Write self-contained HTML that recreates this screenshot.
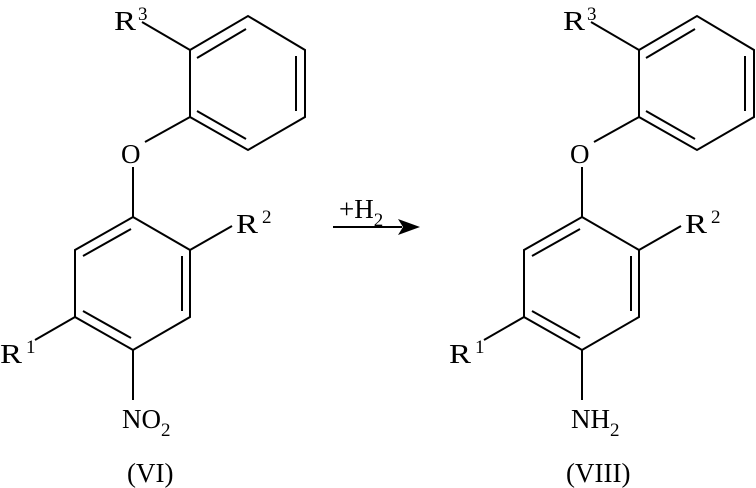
<!DOCTYPE html>
<html><head><meta charset="utf-8"><style>
html,body{margin:0;padding:0;background:#fff;}
svg{display:block;}
</style></head><body>
<svg width="756" height="488" viewBox="0 0 756 488" xmlns="http://www.w3.org/2000/svg" font-family="Liberation Serif, serif" font-size="27" fill="#000">
<defs>
<g id="m" stroke="#000" stroke-width="2" fill="none">
<polygon points="190,50 248,16 305,50 305,117 248,150 190,117"/>
<line x1="197" y1="58" x2="246" y2="29"/>
<line x1="296" y1="56" x2="296" y2="111"/>
<line x1="197" y1="111" x2="246" y2="139"/>
<line x1="190" y1="50" x2="142" y2="22"/>
<line x1="190" y1="117" x2="145" y2="142"/>
<line x1="133" y1="167" x2="133" y2="217"/>
<polygon points="133,217 190,250 190,317 133,350 75,317 75,250"/>
<line x1="83" y1="256" x2="131" y2="229"/>
<line x1="182" y1="256" x2="182" y2="311"/>
<line x1="83" y1="311" x2="131" y2="338"/>
<line x1="190" y1="250" x2="232" y2="226"/>
<line x1="75" y1="317" x2="35" y2="340"/>
<line x1="133" y1="350" x2="133" y2="400"/>
</g>
</defs>
<use href="#m"/>
<use href="#m" x="449"/>
<text x="114" y="30"><tspan textLength="22" lengthAdjust="spacingAndGlyphs">R</tspan><tspan font-size="19" dx="2" dy="-10">3</tspan></text>
<text x="121" y="163">O</text>
<text x="236" y="233"><tspan textLength="22" lengthAdjust="spacingAndGlyphs">R</tspan><tspan font-size="19" dx="4" dy="-10">2</tspan></text>
<text x="0" y="363"><tspan textLength="22" lengthAdjust="spacingAndGlyphs">R</tspan><tspan font-size="19" dx="4" dy="-10">1</tspan></text>
<text x="122" y="428">NO<tspan font-size="19" dy="8">2</tspan></text>
<text x="127" y="482">(VI)</text>

<text x="563" y="30"><tspan textLength="22" lengthAdjust="spacingAndGlyphs">R</tspan><tspan font-size="19" dx="2" dy="-10">3</tspan></text>
<text x="570" y="163">O</text>
<text x="685" y="233"><tspan textLength="22" lengthAdjust="spacingAndGlyphs">R</tspan><tspan font-size="19" dx="4" dy="-10">2</tspan></text>
<text x="449" y="363"><tspan textLength="22" lengthAdjust="spacingAndGlyphs">R</tspan><tspan font-size="19" dx="4" dy="-10">1</tspan></text>
<text x="571" y="428">NH<tspan font-size="19" dy="8">2</tspan></text>
<text x="566" y="482">(VIII)</text>

<text x="339" y="218">+H<tspan font-size="19" dy="8">2</tspan></text>
<line x1="333" y1="227" x2="402" y2="227" stroke="#000" stroke-width="2"/>
<polygon points="420,227 398,219 403,227 398,235" fill="#000"/>
</svg>
</body></html>
